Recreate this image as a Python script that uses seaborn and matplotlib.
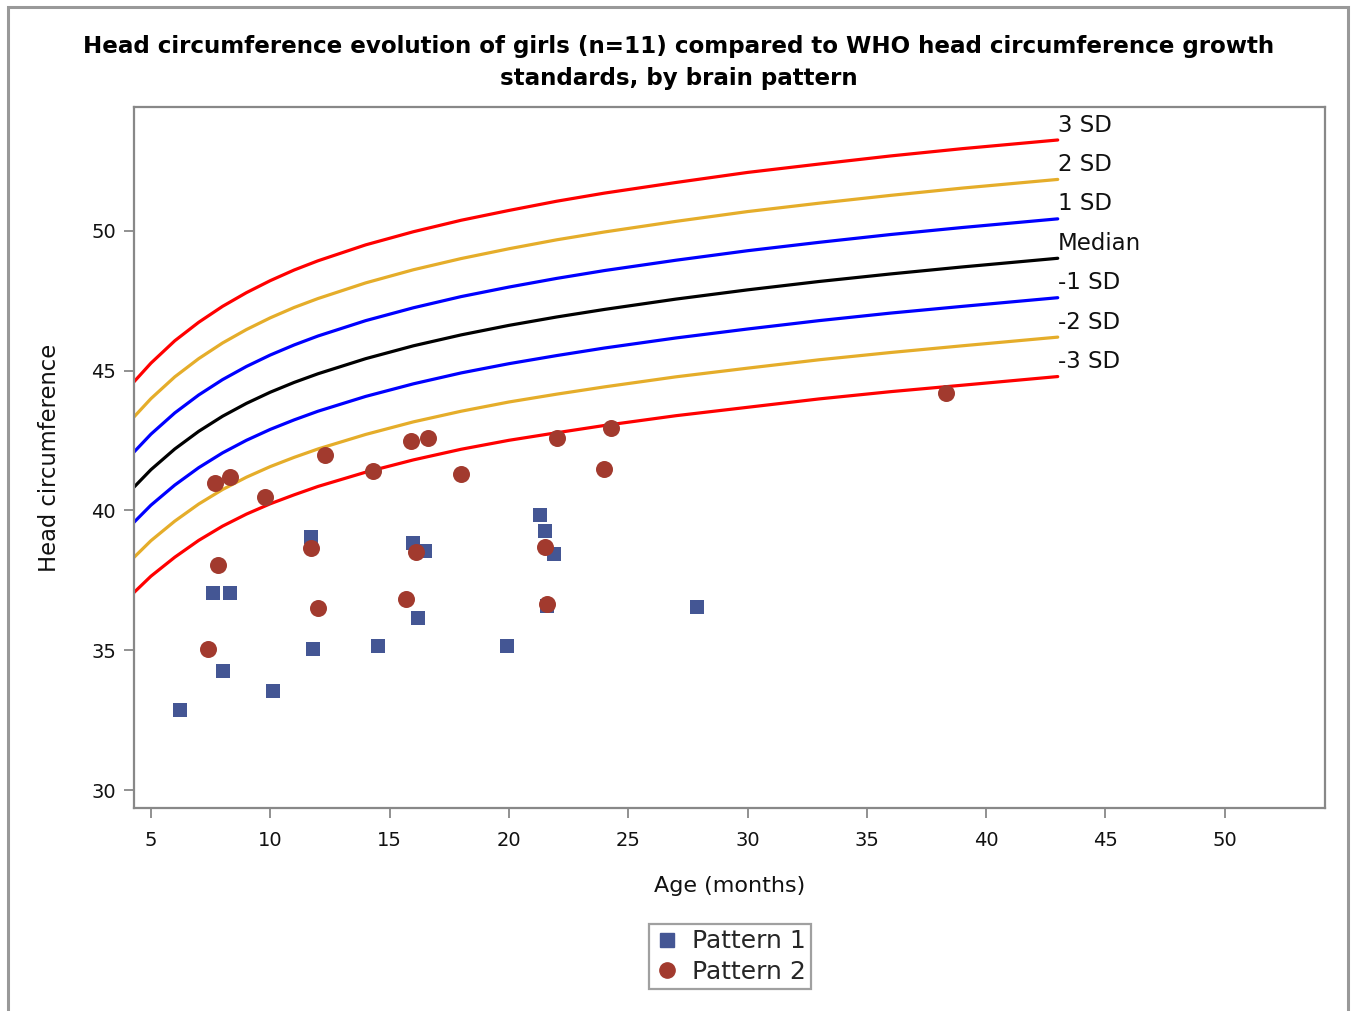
import numpy as np
import pandas as pd
import seaborn as sns
import matplotlib.pyplot as plt
from matplotlib.patches import Rectangle
from matplotlib.lines import Line2D

# WHO head circumference for girls
who_age = [4, 5, 6, 7, 8, 9, 10, 11, 12, 14, 16, 18, 20, 22, 24, 27, 30, 33, 36, 39, 43]
sd_p3 = [44.33, 45.27, 46.07, 46.73, 47.30, 47.79, 48.22, 48.60, 48.93, 49.50, 49.97, 50.38, 50.73, 51.06, 51.35, 51.73, 52.09, 52.39, 52.68, 52.94, 53.25]
sd_p2 = [43.08, 44.00, 44.78, 45.43, 45.99, 46.47, 46.89, 47.26, 47.58, 48.14, 48.61, 49.01, 49.36, 49.68, 49.96, 50.34, 50.69, 50.99, 51.27, 51.53, 51.84]
sd_p1 = [41.83, 42.73, 43.49, 44.13, 44.68, 45.15, 45.56, 45.92, 46.24, 46.79, 47.25, 47.65, 47.99, 48.30, 48.58, 48.95, 49.29, 49.59, 49.87, 50.12, 50.43]
median = [40.58, 41.46, 42.20, 42.83, 43.37, 43.83, 44.23, 44.58, 44.89, 45.43, 45.89, 46.28, 46.62, 46.92, 47.19, 47.56, 47.89, 48.19, 48.46, 48.71, 49.02]
sd_m1 = [39.33, 40.19, 40.91, 41.53, 42.06, 42.51, 42.90, 43.24, 43.55, 44.08, 44.53, 44.92, 45.25, 45.54, 45.81, 46.17, 46.49, 46.79, 47.06, 47.30, 47.61]
sd_m2 = [38.08, 38.92, 39.62, 40.23, 40.75, 41.19, 41.57, 41.90, 42.20, 42.72, 43.17, 43.55, 43.88, 44.16, 44.42, 44.78, 45.09, 45.39, 45.65, 45.89, 46.20]
sd_m3 = [36.83, 37.65, 38.33, 38.93, 39.44, 39.87, 40.24, 40.56, 40.86, 41.37, 41.81, 42.19, 42.51, 42.78, 43.04, 43.39, 43.69, 43.99, 44.25, 44.48, 44.79]

curve_names = ["3 SD", "2 SD", "1 SD", "Median", "-1 SD", "-2 SD", "-3 SD"]
curve_colors = ["#ff0000", "#e5ad2a", "#0000ff", "#000000", "#0000ff", "#e5ad2a", "#ff0000"]

# patients
p1_age = [6.2, 7.6, 8.3, 8.0, 10.1, 11.7, 11.8, 14.5, 16.0, 16.5, 16.2, 21.3, 21.5, 21.9, 21.6, 19.9, 27.9]
p1_hc = [32.85, 37.05, 37.05, 34.25, 33.55, 39.05, 35.05, 35.15, 38.85, 38.55, 36.15, 39.85, 39.25, 38.45, 36.6, 35.15, 36.55]
p2_age = [7.7, 8.3, 9.8, 12.3, 14.3, 15.9, 16.6, 18.0, 7.8, 7.4, 11.7, 12.0, 16.1, 15.7,
          24.3, 22.0, 24.0, 21.5, 21.6, 38.3]
p2_hc = [41.0, 41.2, 40.5, 42.0, 41.4, 42.5, 42.6, 41.3, 38.05, 35.05, 38.65, 36.5, 38.5, 36.85,
         42.95, 42.6, 41.5, 38.7, 36.65, 44.2]

sns.set_style("white")
plt.rcParams['font.family'] = ['DejaVu Sans']

fig = plt.figure(figsize=(13.57, 10.11), dpi=100)
ax = fig.add_axes([134 / 1357, 1 - 808 / 1011, (1325 - 134) / 1357, (808 - 107) / 1011])

curves = pd.DataFrame({
    "age": who_age * 7,
    "hc": sd_p3 + sd_p2 + sd_p1 + median + sd_m1 + sd_m2 + sd_m3,
    "curve": [n for n in curve_names for _ in who_age],
})
sns.lineplot(data=curves, x="age", y="hc", hue="curve", hue_order=curve_names,
             palette=curve_colors, lw=2.3, legend=False, ax=ax, zorder=2)

for name, vals in zip(curve_names, [sd_p3, sd_p2, sd_p1, median, sd_m1, sd_m2, sd_m3]):
    ax.text(who_age[-1], vals[-1] + 0.12, name, fontsize=16.5, ha='left', va='bottom', color='#111111')

pts = pd.DataFrame({
    "age": p1_age + p2_age,
    "hc": p1_hc + p2_hc,
    "pattern": ["Pattern 1"] * len(p1_age) + ["Pattern 2"] * len(p2_age),
})
sns.scatterplot(data=pts[pts.pattern == "Pattern 1"], x="age", y="hc", marker="s", s=115,
                color="#445694", linewidth=0, ax=ax, zorder=3, legend=False)
sns.scatterplot(data=pts[pts.pattern == "Pattern 2"], x="age", y="hc", marker="o", s=150,
                color="#a23a2e", linewidth=0, ax=ax, zorder=4, legend=False)

ax.set_xlim(4.29, 54.2)
ax.set_ylim(29.36, 54.43)
ax.set_xticks(range(5, 51, 5))
ax.set_yticks(range(30, 51, 5))
ax.tick_params(axis='both', which='major', length=7, width=1.3, color='#888888',
               labelsize=14, labelcolor='#111111', direction='out', left=True, bottom=True)
ax.tick_params(axis='x', pad=9.5)
ax.tick_params(axis='y', pad=6)
for sp in ax.spines.values():
    sp.set_color('#888888')
    sp.set_linewidth(1.6)

ax.set_xlabel("Age (months)", fontsize=16, color='#111111', labelpad=19)
ax.set_ylabel("Head circumference", fontsize=16.3, color='#111111', labelpad=22)

fig.text(0.5, 1 - 47 / 1011, "Head circumference evolution of girls (n=11) compared to WHO head circumference growth",
         ha='center', va='center', fontsize=16.6, fontweight='bold', color='black')
fig.text(0.5, 1 - 79 / 1011, "standards, by brain pattern",
         ha='center', va='center', fontsize=16.6, fontweight='bold', color='black')

handles = [
    Line2D([], [], marker='s', ls='', color='#445694', markersize=10),
    Line2D([], [], marker='o', ls='', color='#a23a2e', markersize=11),
]
leg = fig.legend(handles, ["Pattern 1", "Pattern 2"], loc='upper center',
                 bbox_to_anchor=(730 / 1357, 1 - 924 / 1011), fontsize=18, frameon=True,
                 fancybox=False, handletextpad=0.5, borderpad=0.22, labelspacing=0.25,
                 handlelength=1.0, borderaxespad=0)
leg.get_frame().set_edgecolor('#888888')
leg.get_frame().set_linewidth(1.6)

fig.patches.append(Rectangle((8 / 1357, -0.05), (1348 - 8) / 1357, 1.05 - 7 / 1011,
                             transform=fig.transFigure, fill=False, edgecolor='#999999', lw=2.2))

fig.savefig("out.png", dpi=100)
